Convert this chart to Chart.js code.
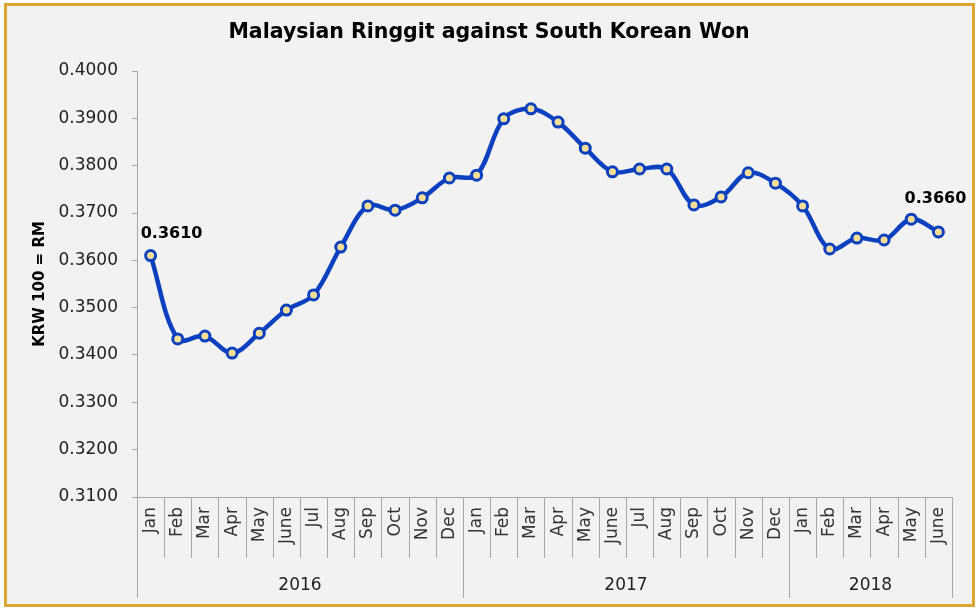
<!DOCTYPE html>
<html>
<head>
<meta charset="utf-8">
<script src="https://cdn.jsdelivr.net/npm/chart.js@4.4.1/dist/chart.umd.min.js"></script>
<style>
  html, body { margin: 0; padding: 0; background: #fff; }
  #wrap { width: 979px; height: 609px; position: relative; }
</style>
</head>
<body>
<div id="wrap"><canvas id="chart" width="979" height="609"></canvas></div>
<script>
// MYR per KRW 100, monthly, Jan 2016 - June 2018
const chartTitle = "Malaysian Ringgit against South Korean Won";
const months = ["Jan","Feb","Mar","Apr","May","June","Jul","Aug","Sep","Oct","Nov","Dec",
                "Jan","Feb","Mar","Apr","May","June","Jul","Aug","Sep","Oct","Nov","Dec",
                "Jan","Feb","Mar","Apr","May","June"];
const years = ["2016", "2017", "2018"];
const yearSpans = [12, 12, 6];
const rates = [0.3610, 0.3434, 0.3440, 0.3404, 0.3446, 0.3495, 0.3527, 0.3628, 0.3715, 0.3706, 0.3732, 0.3774,
               0.3780, 0.3899, 0.3920, 0.3892, 0.3837, 0.3787, 0.3793, 0.3793, 0.3717, 0.3734, 0.3785, 0.3763,
               0.3715, 0.3624, 0.3647, 0.3643, 0.3687, 0.3660];
const labelled = [0, 29];

const FONT = "'DejaVu Sans', sans-serif";
const AXIS_GRAY = "#a6a6a6";

// page frame: grey panel with golden border, plus the title
const framePlugin = {
  id: "frame",
  beforeDraw(chart) {
    const c = chart.ctx;
    c.save();
    c.fillStyle = "#ffffff";
    c.fillRect(0, 0, chart.width, chart.height);
    c.fillStyle = "#f2f2f2";
    c.fillRect(5, 5, chart.width - 10, chart.height - 9);
    c.strokeStyle = "#dca630";
    c.lineWidth = 3;
    c.strokeRect(5.5, 4.5, chart.width - 11, chart.height - 8);
    c.fillStyle = "#000";
    c.font = "bold 20.5px " + FONT;
    c.textAlign = "center";
    c.textBaseline = "middle";
    c.fillText(chartTitle, 489, 33);
    c.restore();
  }
};

// month separators + year groups under the x axis
const groupAxisPlugin = {
  id: "groupAxis",
  afterDraw(chart) {
    const x = chart.scales.x;
    const c = chart.ctx;
    const w = x.getPixelForValue(1) - x.getPixelForValue(0);
    const bottom = chart.chartArea.bottom;
    c.save();
    c.strokeStyle = AXIS_GRAY;
    c.lineWidth = 1;
    const bounds = [0];
    yearSpans.forEach((s, i) => bounds.push(bounds[i] + s));
    for (let i = 0; i <= months.length; i++) {
      const px = Math.round(x.getPixelForValue(0) - w / 2 + i * w) + 0.5;
      const long = bounds.includes(i);
      c.beginPath();
      c.moveTo(px, bottom);
      c.lineTo(px, bottom + (long ? 101 : 61));
      c.stroke();
    }
    c.fillStyle = "#222";
    c.font = "17px " + FONT;
    c.textAlign = "center";
    c.textBaseline = "middle";
    years.forEach((yr, i) => {
      const a = x.getPixelForValue(0) - w / 2 + bounds[i] * w;
      const b = x.getPixelForValue(0) - w / 2 + bounds[i + 1] * w;
      c.fillText(yr, (a + b) / 2, bottom + 89);
    });
    c.restore();
  }
};

// value labels on first and last point
const valueLabelPlugin = {
  id: "valueLabels",
  afterDatasetsDraw(chart) {
    const meta = chart.getDatasetMeta(0);
    const c = chart.ctx;
    const offsets = { 0: [21, -22], 29: [-3, -33] };
    c.save();
    c.fillStyle = "#000";
    c.font = "bold 16px " + FONT;
    c.textAlign = "center";
    c.textBaseline = "middle";
    labelled.forEach(i => {
      const p = meta.data[i];
      const o = offsets[i] || [0, -20];
      c.fillText(rates[i].toFixed(4), p.x + o[0], p.y + o[1]);
    });
    c.restore();
  }
};

new Chart(document.getElementById("chart").getContext("2d"), {
  type: "line",
  data: {
    labels: months,
    datasets: [{
      data: rates,
      borderColor: "#0b40c0",
      borderWidth: 4.5,
      tension: 0.35,
      pointRadius: 5,
      pointHoverRadius: 5,
      pointBorderWidth: 3,
      pointBorderColor: "#0b40c0",
      pointBackgroundColor: "#f8de96"
    }]
  },
  options: {
    responsive: false,
    animation: false,
    layout: { padding: { left: 8, right: 27, top: 71, bottom: 8 } },
    plugins: {
      legend: { display: false },
      tooltip: { enabled: false },
      title: { display: false }
    },
    scales: {
      x: {
        type: "category",
        offset: true,
        grid: { display: false, drawTicks: false },
        border: { display: true, color: AXIS_GRAY, width: 1 },
        ticks: {
          color: "#333",
          font: { family: FONT, size: 17 },
          minRotation: 90,
          maxRotation: 90,
          autoSkip: false,
          padding: 10
        },
        afterFit(scale) { scale.height = 104; }
      },
      y: {
        min: 0.31,
        max: 0.40,
        grid: { drawOnChartArea: false, drawTicks: true, tickLength: 5, color: AXIS_GRAY },
        border: { display: true, color: AXIS_GRAY, width: 1 },
        ticks: {
          stepSize: 0.01,
          color: "#222",
          font: { family: FONT, size: 17 },
          padding: 14,
          callback: v => Number(v).toFixed(4)
        },
        title: {
          display: true,
          text: "KRW 100 = RM",
          color: "#000",
          font: { family: FONT, size: 15, weight: "bold" },
          padding: { top: 23, bottom: 0 }
        },
        afterFit(scale) { scale.width = 129; }
      }
    }
  },
  plugins: [framePlugin, groupAxisPlugin, valueLabelPlugin]
});
</script>
</body>
</html>
